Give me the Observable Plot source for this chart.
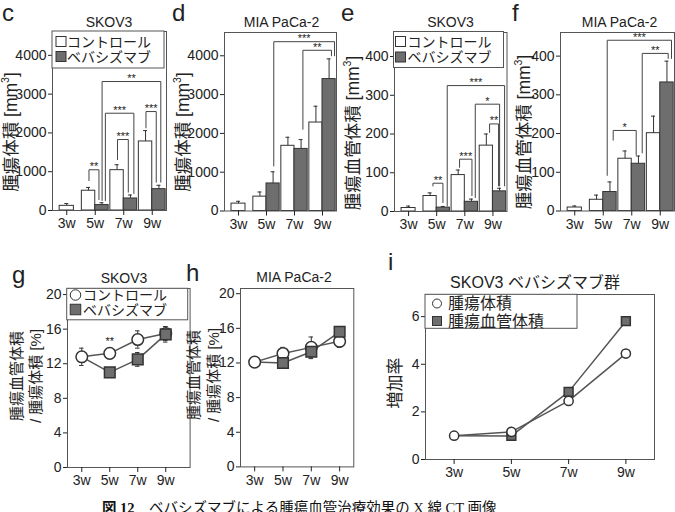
<!DOCTYPE html>
<html lang="ja">
<head>
<meta charset="utf-8">
<script src="https://cdn.jsdelivr.net/npm/d3@7"></script>
<script src="https://cdn.jsdelivr.net/npm/@observablehq/plot@0.6"></script>
<style>
  html, body { margin: 0; padding: 0; background: #fff; }
  #fig { position: relative; width: 675px; height: 512px; overflow: hidden; background: #fff; }
  #fig svg { position: absolute; }
</style>
</head>
<body>
<div id="fig"></div>
<script>
// ---- labels ----
const weeks = ["3w", "5w", "7w", "9w"];
const groupLabels = ["コントロール", "ベバシズマブ"];
const growthLabels = ["腫瘍体積", "腫瘍血管体積"];
const cellLines = ["SKOV3", "MIA PaCa-2"];
const growthTitle = "SKOV3 ベバシズマブ群";
const panelLetters = ["c", "d", "e", "f", "g", "h", "i"];
const tumorAxis = "腫瘍体積 [mm";
const vesselAxis = "腫瘍血管体積 [mm";
const ratioAxis = ["腫瘍血管体積", "/ 腫瘍体積 [%]"];
const growthAxis = "増加率";
const captionHead = "図 12";
const captionBody = "　ベバシズマブによる腫瘍血管治療効果の X 線 CT 画像";

// ---- c: SKOV3 tumor volume [mm3] (mean, error) ----
const skovTumorCtrl = [120, 510, 1040, 1780];
const skovTumorCtrlErr = [60, 85, 140, 280];
const skovTumorBeva = [null, 140, 310, 550];
const skovTumorBevaErr = [null, 60, 90, 100];
// significance brackets: [x left, x right, top, left foot, right foot, mark]
const skovTumorBrackets = [
  [0.78, 1.13, 1050, 770, 280, "**"],
  [1.355, 2.355, 2508, 258, 438, "***"],
  [1.78, 2.16, 1830, 1314, 472, "***"],
  [2.78, 3.14, 2551, 2131, 730, "***"],
  [1.24, 3.3, 3325, 258, 730, "**"]
];

// ---- d: MIA PaCa-2 tumor volume [mm3] ----
const miaTumorCtrl = [190, 370, 1680, 2280];
const miaTumorCtrlErr = [60, 120, 220, 420];
const miaTumorBeva = [null, 710, 1600, 3400];
const miaTumorBevaErr = [null, 300, 240, 520];
const miaTumorBrackets = [
  [1.26, 3.43, 4363, 1160, 4000, "***"],
  [2.3, 3.32, 4142, 2106, 4000, "**"]
];

// ---- e: SKOV3 tumor vessel volume [mm3] ----
const skovVesselCtrl = [9, 40, 94, 170];
const skovVesselCtrlErr = [5, 8, 13, 30];
const skovVesselBeva = [null, 10, 25, 52];
const skovVesselBevaErr = [null, 3, 7, 8];
const skovVesselBrackets = [
  [0.867, 1.222, 73, 66, 23, "**"],
  [1.375, 3.415, 325, 14, 66, "***"],
  [1.813, 2.254, 135, 114, 41, "***"],
  [2.372, 3.237, 277, 36, 66, "*"],
  [2.881, 3.2, 226, 204, 66, "**"]
];

// ---- f: MIA PaCa-2 tumor vessel volume [mm3] ----
const miaVesselCtrl = [9, 29, 135, 201];
const miaVesselCtrlErr = [4, 12, 20, 44];
const miaVesselBeva = [null, 49, 122, 332];
const miaVesselBevaErr = [null, 26, 20, 55];
const miaVesselBrackets = [
  [1.139, 3.395, 441, 92, 394, "***"],
  [2.367, 3.279, 407, 150, 394, "**"],
  [1.349, 2.156, 208, 183, 145, "*"]
];

// ---- g: SKOV3 vessel / tumor volume [%] ----
const skovRatioCtrl = [12.8, 13.2, 14.8, 15.5];
const skovRatioCtrlErr = [1.0, 0.4, 1.0, 0.8];
const skovRatioBeva = [12.8, 11.0, 12.5, 15.4];
const skovRatioBevaErr = [1.0, 0.5, 0.8, 0.9];
const skovRatioNotes = [[1, 14.6, "**"]];

// ---- h: MIA PaCa-2 vessel / tumor volume [%] ----
const miaRatioCtrl = [12.1, 13.1, 13.8, 14.5];
const miaRatioCtrlErr = [0.6, 0.7, 1.2, 0.7];
const miaRatioBeva = [12.1, 12.0, 13.3, 15.6];
const miaRatioBevaErr = [0.6, 0.2, 0.8, 0.5];

// ---- i: SKOV3 bevacizumab group, growth ratio ----
const growthTumor = [1.0, 1.16, 2.46, 4.45];
const growthVessel = [1.0, 0.99, 2.84, 5.81];

// ---- drawing ----
const SANS = '"Liberation Sans", Arial, "Noto Sans CJK JP", sans-serif';
const SERIF = '"Liberation Serif", "Noto Sans CJK JP", serif';
const INK = "#222", EDGE = "#555", DARK = "#333", GRAY = "#6e6e6e";
const fig = document.getElementById("fig");
const M = {l: 50, r: 8, t: 8, b: 30};

function mount(svg, p) {
  svg.style.left = (p.l - M.l) + "px";
  svg.style.top = (p.t - M.t) + "px";
  fig.appendChild(svg);
}

function baseOptions(p) {
  return {
    width: p.r - p.l + M.l + M.r,
    height: p.b - p.t + M.t + M.b,
    marginLeft: M.l, marginRight: M.r, marginTop: M.t, marginBottom: M.b,
    style: {fontFamily: SANS, fontSize: "14px", color: INK, background: "transparent", overflow: "visible"},
    x: {type: "linear", domain: p.xDomain || [-0.5, 3.5]},
    y: {domain: [0, p.yMax]},
    color: {type: "identity"}
  };
}

function axes(p) {
  return [
    Plot.frame({stroke: EDGE}),
    Plot.axisY({ticks: p.yTicks, tickFormat: d => String(d), tickSize: 4, tickPadding: 2, label: null}),
    Plot.axisX({ticks: [0, 1, 2, 3], tickFormat: i => weeks[i], tickSize: 5, tickPadding: 3, label: null})
  ];
}

function barPanel(p) {
  const rows = [];
  weeks.forEach((w, i) => {
    const paired = p.beva[i] != null;
    rows.push({v: p.ctrl[i], e: p.ctrlErr[i], x1: paired ? i - 0.47 : i - 0.25, x2: paired ? i : i + 0.25, fill: "#fff"});
    if (paired) rows.push({v: p.beva[i], e: p.bevaErr[i], x1: i, x2: i + 0.47, fill: GRAY});
  });
  rows.forEach(d => { d.xc = (d.x1 + d.x2) / 2; d.top = d.v + d.e; });
  const legs = p.brackets.flatMap(([x1, x2, top, b1, b2], k) => [
    {k, x: x1, y: b1}, {k, x: x1, y: top}, {k, x: x2, y: top}, {k, x: x2, y: b2}
  ]);
  const stars = p.brackets.map(([x1, x2, top, , , s]) => ({x: (x1 + x2) / 2, y: top, s}));
  const svg = Plot.plot({
    ...baseOptions(p),
    marks: [
      Plot.rect(rows, {x1: "x1", x2: "x2", y1: 0, y2: "v", fill: "fill", stroke: DARK}),
      Plot.ruleX(rows, {x: "xc", y1: "v", y2: "top", stroke: DARK}),
      Plot.ruleY(rows, {y: "top", x1: d => d.xc - 0.07, x2: d => d.xc + 0.07, stroke: DARK}),
      Plot.line(legs, {x: "x", y: "y", z: "k", stroke: "#444", strokeWidth: 1}),
      Plot.text(stars, {x: "x", y: "y", text: "s", fontSize: 11, dy: -3, fill: INK}),
      ...axes(p)
    ]
  });
  mount(svg, p);
}

function linePanel(p) {
  const ctrlRows = p.ctrl.map((v, i) => ({i, v, e: p.ctrlErr ? p.ctrlErr[i] : 0}));
  const bevaRows = p.beva.map((v, i) => ({i, v, e: p.bevaErr ? p.bevaErr[i] : 0}));
  const errRows = p.ctrlErr ? [...ctrlRows, ...bevaRows.slice(1)] : [];
  const cap = 0.08;
  const squares = Plot.dot(bevaRows.slice(1), {x: "i", y: "v", symbol: "square", r: p.squareR, fill: GRAY, stroke: DARK});
  const circles = Plot.dot(ctrlRows, {x: "i", y: "v", symbol: "circle", r: p.circleR, fill: "#fff", stroke: DARK});
  const notes = (p.notes || []).map(([i, v, s]) => ({i, v, s}));
  const svg = Plot.plot({
    ...baseOptions(p),
    marks: [
      Plot.line(ctrlRows, {x: "i", y: "v", stroke: "#555"}),
      Plot.line(bevaRows, {x: "i", y: "v", stroke: "#555"}),
      Plot.ruleX(errRows, {x: "i", y1: d => d.v - d.e, y2: d => d.v + d.e, stroke: DARK}),
      Plot.ruleY(errRows, {y: d => d.v + d.e, x1: d => d.i - cap, x2: d => d.i + cap, stroke: DARK}),
      Plot.ruleY(errRows, {y: d => d.v - d.e, x1: d => d.i - cap, x2: d => d.i + cap, stroke: DARK}),
      ...(p.circlesOnTop ? [squares, circles] : [circles, squares]),
      Plot.text(notes, {x: "i", y: "v", text: "s", fontSize: 11, fill: INK}),
      ...axes(p)
    ]
  });
  mount(svg, p);
}

barPanel({l: 52, r: 166, t: 31, b: 210, yMax: 4615, yTicks: [0, 1000, 2000, 3000, 4000],
  ctrl: skovTumorCtrl, ctrlErr: skovTumorCtrlErr, beva: skovTumorBeva, bevaErr: skovTumorBevaErr, brackets: skovTumorBrackets});
barPanel({l: 224, r: 336, t: 31.5, b: 210, yMax: 4600, yTicks: [0, 1000, 2000, 3000, 4000],
  ctrl: miaTumorCtrl, ctrlErr: miaTumorCtrlErr, beva: miaTumorBeva, bevaErr: miaTumorBevaErr, brackets: miaTumorBrackets});
barPanel({l: 393.5, r: 506, t: 31.5, b: 210.5, yMax: 462, yTicks: [0, 100, 200, 300, 400],
  ctrl: skovVesselCtrl, ctrlErr: skovVesselCtrlErr, beva: skovVesselBeva, bevaErr: skovVesselBevaErr, brackets: skovVesselBrackets});
barPanel({l: 560, r: 674, t: 32, b: 210.5, yMax: 461, yTicks: [0, 100, 200, 300, 400],
  ctrl: miaVesselCtrl, ctrlErr: miaVesselCtrlErr, beva: miaVesselBeva, bevaErr: miaVesselBevaErr, brackets: miaVesselBrackets});

linePanel({l: 66.7, r: 189.3, t: 288.3, b: 467.3, xDomain: [-0.51, 3.87], yMax: 20.7, yTicks: [0, 4, 8, 12, 16, 20],
  ctrl: skovRatioCtrl, ctrlErr: skovRatioCtrlErr, beva: skovRatioBeva, bevaErr: skovRatioBevaErr,
  circleR: 5.8, squareR: 6, notes: skovRatioNotes});
linePanel({l: 240, r: 353.3, t: 288.3, b: 466.7, yMax: 20.6, yTicks: [0, 4, 8, 12, 16, 20],
  ctrl: miaRatioCtrl, ctrlErr: miaRatioCtrlErr, beva: miaRatioBeva, bevaErr: miaRatioBevaErr,
  circleR: 5.8, squareR: 6});
linePanel({l: 425, r: 654, t: 294.3, b: 459.3, yMax: 6.93, yTicks: [0, 2, 4, 6],
  ctrl: growthTumor, beva: growthVessel, circleR: 4.6, squareR: 5, circlesOnTop: true});

// ---- annotation layer: letters, titles, axis titles, legends, caption ----
const over = d3.select(fig).append("svg")
  .attr("width", 675).attr("height", 512)
  .style("left", "0px").style("top", "0px");

function txt(str, x, y, size, opts = {}) {
  return over.append("text")
    .attr("x", x).attr("y", y)
    .attr("text-anchor", opts.anchor || "middle")
    .attr("dominant-baseline", opts.baseline || "central")
    .style("font-family", opts.family || SANS)
    .style("font-size", size + "px")
    .style("font-weight", opts.weight || "normal")
    .attr("fill", INK)
    .text(str);
}

function rotLabel(x, y, size, text, sup) {
  const t = over.append("text")
    .attr("transform", `translate(${x},${y}) rotate(-90)`)
    .attr("text-anchor", "middle")
    .attr("dominant-baseline", "central")
    .style("font-family", SANS).style("font-size", size + "px")
    .attr("fill", INK);
  t.append("tspan").text(text);
  if (sup) {
    t.append("tspan").attr("baseline-shift", "super").style("font-size", (size * 0.6) + "px").text(sup);
    t.append("tspan").text("]");
  }
}

function legend(box, items, o) {
  over.append("rect").attr("x", box.l).attr("y", box.t).attr("width", box.w).attr("height", box.h)
    .attr("fill", "#fff").attr("stroke", EDGE);
  items.forEach(it => {
    if (it.kind === "circle") {
      over.append("circle").attr("cx", o.sx).attr("cy", it.y).attr("r", o.size / 2)
        .attr("fill", it.fill).attr("stroke", DARK);
    } else {
      over.append("rect").attr("x", o.sx - o.size / 2).attr("y", it.y - o.size / 2)
        .attr("width", o.size).attr("height", o.size).attr("fill", it.fill).attr("stroke", DARK);
    }
    txt(it.label, o.tx, it.y, o.fs, {anchor: "start"});
  });
}

// panel letters
[[2, 20.5], [172, 20.5], [341, 20.5], [512, 20.5], [12, 283], [186, 281], [388, 270]]
  .forEach(([x, y], k) => txt(panelLetters[k], x, y, 24, {anchor: "start", baseline: "alphabetic"}));

// panel titles
txt(cellLines[0], 109, 21.5, 14);
txt(cellLines[1], 281.5, 21.5, 14);
txt(cellLines[0], 450.5, 21.5, 14);
txt(cellLines[1], 619.5, 21.5, 14);
txt(cellLines[0], 124, 277.5, 14);
txt(cellLines[1], 294, 277, 14);
txt(growthTitle, 535, 282, 16);

// axis titles
rotLabel(11, 132, 17.5, tumorAxis, "3");
rotLabel(182.5, 132, 17.5, tumorAxis, "3");
rotLabel(352.5, 133, 17.5, vesselAxis, "3");
rotLabel(524, 132, 17.5, vesselAxis, "3");
rotLabel(16, 376, 15, ratioAxis[0]);
rotLabel(35, 376, 15, ratioAxis[1]);
rotLabel(192.5, 375, 15, ratioAxis[0]);
rotLabel(212.5, 375, 15, ratioAxis[1]);
rotLabel(395, 383, 17, growthAxis);

// legends
const barItems = (y1, y2) => [
  {kind: "square", fill: "#fff", label: groupLabels[0], y: y1},
  {kind: "square", fill: GRAY, label: groupLabels[1], y: y2}
];
legend({l: 52, t: 31, w: 112, h: 37}, barItems(41.5, 56.5), {sx: 61, tx: 67, size: 10, fs: 14});
legend({l: 393.5, t: 31.5, w: 110, h: 36}, barItems(41.5, 57), {sx: 400.5, tx: 407.5, size: 10, fs: 14});
legend({l: 66.7, t: 288.3, w: 121, h: 31.5}, [
  {kind: "circle", fill: "#fff", label: groupLabels[0], y: 295},
  {kind: "square", fill: GRAY, label: groupLabels[1], y: 309.5}
], {sx: 75.5, tx: 83, size: 10.5, fs: 14});
legend({l: 425, t: 294.3, w: 152, h: 34}, [
  {kind: "circle", fill: "#fff", label: growthLabels[0], y: 303.5},
  {kind: "square", fill: GRAY, label: growthLabels[1], y: 321}
], {sx: 437, tx: 448, size: 9, fs: 16});

// figure caption
const cap = over.append("text").attr("x", 102).attr("y", 513)
  .style("font-family", SERIF).style("font-size", "14.5px").attr("fill", "#111");
cap.append("tspan").style("font-weight", "bold").text(captionHead);
cap.append("tspan").text(captionBody);
</script>
</body>
</html>
